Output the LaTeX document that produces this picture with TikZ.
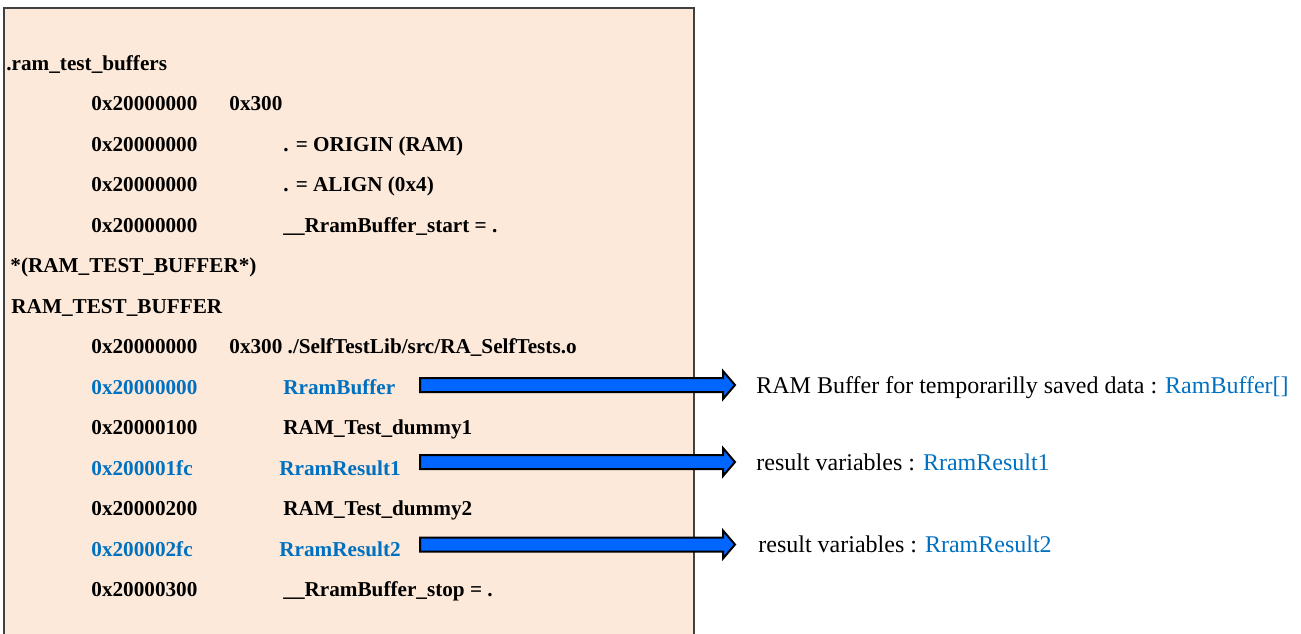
\documentclass[tikz,border=0pt]{standalone}
\usepackage{fontspec}
\setmainfont{Liberation Serif}
\usetikzlibrary{calc}
\definecolor{paper}{HTML}{FDE9D9}
\definecolor{frame}{HTML}{404040}
\definecolor{link}{HTML}{0070C0}
\definecolor{pointer}{HTML}{0066FF}
\tikzset{
  code/.style={anchor=base west, inner sep=0pt, font=\fontsize{10.6}{12}\selectfont\bfseries},
  hot/.style={code, text=link},
  note/.style={anchor=base west, inner sep=0pt, font=\fontsize{12}{14}\selectfont},
  fat/.style={draw=black, line width=1pt, fill=pointer, line join=miter}
}
% block arrow from tail coordinate to tip coordinate
\newcommand\fatarrow[2]{%
  \draw[fat] ($(#1)+(0,-7)$) -- ($(#2)+(-12,-7)$) -- ($(#2)+(-12,-14)$) -- (#2)
    -- ($(#2)+(-12,14)$) -- ($(#2)+(-12,7)$) -- ($(#1)+(0,7)$) -- cycle;}

\begin{document}
\begin{tikzpicture}[x=0.5pt, y=-0.5pt]
\useasboundingbox (0,0) rectangle (1301,633);
\fill [paper] (4,8) rectangle (694,640);
\draw [frame, line width=0.75pt] (4,640) -- (4,8) -- (694,8) -- (694,640);

% section header
\node [code] (sec) at (6,70) {.ram\_test\_buffers};
\node [code] (a1) at (91,110.5) {0x20000000};
\node [code] (s1) at (229,110.5) {0x300};
\node [code] (a2) at (91,151) {0x20000000};
\node [code] (s2) at (283,151) {. = ORIGIN (RAM)};
\node [code] (a3) at (91,191.5) {0x20000000};
\node [code] (s3) at (283,191.5) {. = ALIGN (0x4)};
\node [code] (a4) at (91,232) {0x20000000};
\node [code] (s4) at (283,232) {\_\_RramBuffer\_start = .};
\node [code] (pat) at (10,272.5) {*(RAM\_TEST\_BUFFER*)};
\node [code] (grp) at (11,313) {RAM\_TEST\_BUFFER};
\node [code] (a5) at (91,353.5) {0x20000000};
\node [code] (s5) at (229,353.5) {0x300 ./SelfTestLib/src/RA\_SelfTests.o};

% symbols
\node [hot] (a6) at (91,394) {0x20000000};
\node [hot] (buf) at (283,394) {RramBuffer};
\node [code] (a7) at (91,434.5) {0x20000100};
\node [code] (dum1) at (283,434.5) {RAM\_Test\_dummy1};
\node [hot] (a8) at (91,475) {0x200001fc};
\node [hot] (res1) at (279,475) {RramResult1};
\node [code] (a9) at (91,515.5) {0x20000200};
\node [code] (dum2) at (283,515.5) {RAM\_Test\_dummy2};
\node [hot] (a10) at (91,556) {0x200002fc};
\node [hot] (res2) at (279,556) {RramResult2};
\node [code] (a11) at (91,596.5) {0x20000300};
\node [code] (stop) at (283,596.5) {\_\_RramBuffer\_stop = .};

% notes
\node [note] (n1) at (756,393) {RAM Buffer for temporarilly saved data : \textcolor{link}{RamBuffer[]}};
\node [note] (n2) at (756,470) {result variables : \textcolor{link}{RramResult1}};
\node [note] (n3) at (758,552) {result variables : \textcolor{link}{RramResult2}};

% arrows
\coordinate (t1) at (420,385);
\coordinate (h1) at (735,385);
\coordinate (t2) at (420,462);
\coordinate (h2) at (735,462);
\coordinate (t3) at (420,544.5);
\coordinate (h3) at (735,544.5);
\fatarrow{t1}{h1}
\fatarrow{t2}{h2}
\fatarrow{t3}{h3}
\end{tikzpicture}
\end{document}
